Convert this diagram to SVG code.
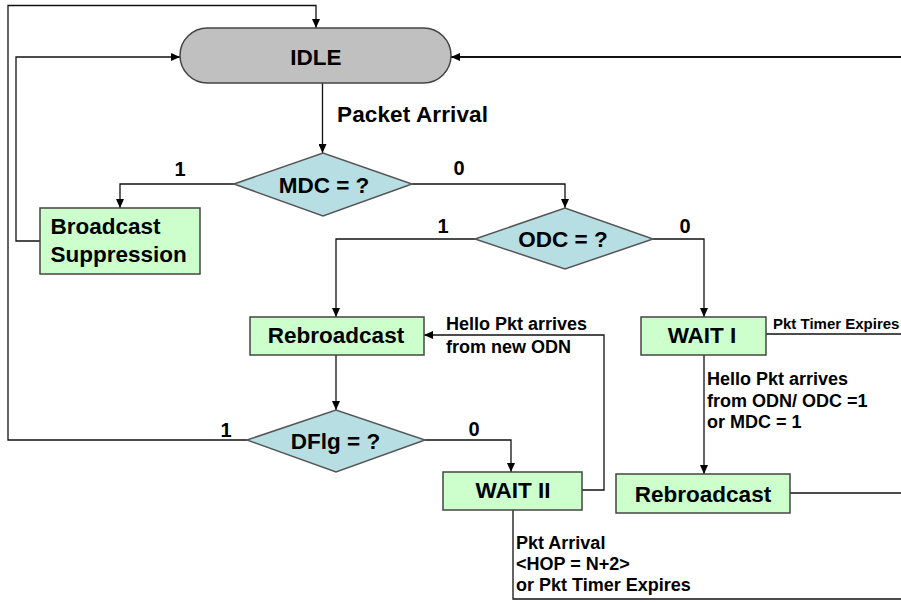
<svg xmlns="http://www.w3.org/2000/svg" width="901" height="602" viewBox="0 0 901 602">
<defs>
<marker id="ah" markerUnits="userSpaceOnUse" markerWidth="9" markerHeight="8" refX="9" refY="4" orient="auto">
<path d="M0,0 L9,4 L0,8 z" fill="#000"/>
</marker>
<style>
.ln{fill:none;stroke:#111;stroke-width:1.3}
.box{fill:#ccffcc;stroke:#444;stroke-width:1.5}
.dia{fill:#b7dee3;stroke:#555;stroke-width:1.5}
.idle{fill:#c0c0c0;stroke:#444;stroke-width:1.5}
.big{font-family:"Liberation Sans",Arial,sans-serif;font-weight:bold;font-size:22.5px;fill:#000}
.num{font-family:"Liberation Sans",Arial,sans-serif;font-weight:bold;font-size:20px;fill:#000}
.sm{font-family:"Liberation Sans",Arial,sans-serif;font-weight:bold;font-size:18px;fill:#000}
.xs{font-family:"Liberation Sans",Arial,sans-serif;font-weight:bold;font-size:15px;fill:#000}
</style>
</defs>
<rect width="901" height="602" fill="#fff"/>
<g id="connectors">
<path class="ln" d="M247,440 H8 V5.5 H316 V28" marker-end="url(#ah)"/>
<path class="ln" d="M40,241 H16 V57 H180" marker-end="url(#ah)"/>
<path class="ln" d="M901,57 H451" style="stroke-width:2" marker-end="url(#ah)"/>
<path class="ln" d="M322.5,83 V153" marker-end="url(#ah)"/>
<path class="ln" d="M234,184 H120 V208" marker-end="url(#ah)"/>
<path class="ln" d="M412,184 H565 V208" marker-end="url(#ah)"/>
<path class="ln" d="M475,239 H336 V317" marker-end="url(#ah)"/>
<path class="ln" d="M653,239 H704 V317" marker-end="url(#ah)"/>
<path class="ln" d="M766,334 H901"/>
<path class="ln" d="M582,490 H604 V335 H424" marker-end="url(#ah)"/>
<path class="ln" d="M336,355 V410" marker-end="url(#ah)"/>
<path class="ln" d="M425,440 H511 V472" marker-end="url(#ah)"/>
<path class="ln" d="M704,355 V474" marker-end="url(#ah)"/>
<path class="ln" d="M790,493 H901"/>
<path class="ln" d="M513,510 V599 H901"/>
<text class="big" x="337" y="122" textLength="151">Packet Arrival</text>
<text class="num" x="180" y="176" text-anchor="middle">1</text>
<text class="num" x="459" y="175" text-anchor="middle">0</text>
<text class="num" x="443" y="233" text-anchor="middle">1</text>
<text class="num" x="685" y="233" text-anchor="middle">0</text>
<text class="num" x="226" y="437" text-anchor="middle">1</text>
<text class="num" x="474" y="436" text-anchor="middle">0</text>
<text class="xs" x="773" y="329">Pkt Timer Expires</text>
<text class="sm" x="446" y="330">Hello Pkt arrives</text>
<text class="sm" x="446" y="353">from new ODN</text>
<text class="sm" x="707" y="385">Hello Pkt arrives</text>
<text class="sm" x="707" y="407">from ODN/ ODC =1</text>
<text class="sm" x="707" y="428">or MDC = 1</text>
<text class="sm" x="516" y="549">Pkt Arrival</text>
<text class="sm" x="516" y="570">&lt;HOP = N+2&gt;</text>
<text class="sm" x="516" y="591">or Pkt Timer Expires</text>
</g>
<g id="idle">
<rect class="idle" x="180" y="28" width="271" height="55" rx="27.5" ry="27.5"/>
<text class="big" x="316" y="65" text-anchor="middle">IDLE</text>
</g>
<g id="mdc">
<polygon class="dia" points="234,184 323,153 412,184 323,216"/>
<text class="big" x="324" y="193" text-anchor="middle">MDC = ?</text>
</g>
<g id="bcast-suppression">
<rect class="box" x="40" y="208" width="160" height="66"/>
<text class="big" x="50.5" y="234">Broadcast</text>
<text class="big" x="50.5" y="262">Suppression</text>
</g>
<g id="odc">
<polygon class="dia" points="475,239 565,208 653,239 565,269"/>
<text class="big" x="563" y="247" text-anchor="middle">ODC = ?</text>
</g>
<g id="rebroadcast1">
<rect class="box" x="250" y="317" width="174" height="38"/>
<text class="big" x="336" y="343" text-anchor="middle">Rebroadcast</text>
</g>
<g id="wait1">
<rect class="box" x="641" y="317" width="125" height="38"/>
<text class="big" x="702" y="343" text-anchor="middle">WAIT I</text>
</g>
<g id="dflg">
<polygon class="dia" points="247,440 336,410 425,440 336,472"/>
<text class="big" x="335.5" y="449" text-anchor="middle">DFlg = ?</text>
</g>
<g id="wait2">
<rect class="box" x="443" y="472" width="139" height="38"/>
<text class="big" x="513" y="498" text-anchor="middle">WAIT II</text>
</g>
<g id="rebroadcast2">
<rect class="box" x="616" y="474" width="174" height="39"/>
<text class="big" x="703" y="502" text-anchor="middle">Rebroadcast</text>
</g>
</svg>
